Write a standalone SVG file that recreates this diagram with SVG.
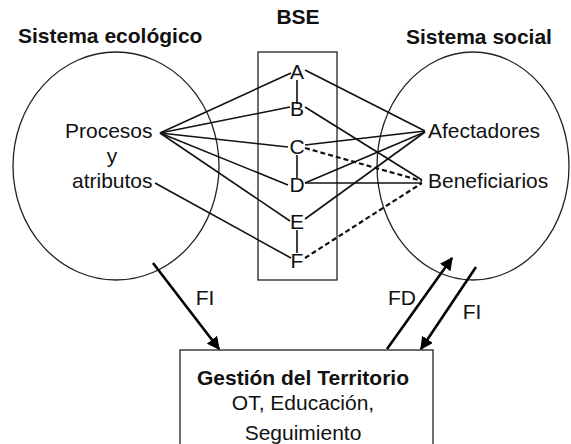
<svg xmlns="http://www.w3.org/2000/svg" width="571" height="444" viewBox="0 0 571 444">
<defs>
<style>
text{font-family:"Liberation Sans",Arial,sans-serif;font-size:21px;fill:#111}
.b{font-weight:bold}
.shape{fill:none;stroke:#222;stroke-width:1.3}
.ln{stroke:#111;stroke-width:1.6;fill:none}
.ds{stroke:#111;stroke-width:2.2;stroke-dasharray:5 3;fill:none}
.ar{stroke:#000;stroke-width:2.6;fill:none;marker-end:url(#ah)}
</style>
<marker id="ah" viewBox="0 0 10 10" refX="9" refY="5" markerWidth="5" markerHeight="5" orient="auto" markerUnits="strokeWidth">
<path d="M0,0 L10,5 L0,10 z" fill="#000"/>
</marker>
</defs>
<rect width="571" height="444" fill="#fff"/>

<g id="sistema-ecologico">
<ellipse class="shape" cx="116" cy="166" rx="103" ry="114"/>
<text class="b" x="18" y="43">Sistema ecológico</text>
<text x="65" y="138">Procesos</text>
<text x="112" y="163" text-anchor="middle">y</text>
<text x="72" y="188">atributos</text>
</g>

<g id="sistema-social">
<ellipse class="shape" cx="473" cy="166" rx="96" ry="114"/>
<text class="b" x="406" y="44">Sistema social</text>
<text x="428" y="138">Afectadores</text>
<text x="428" y="188">Beneficiarios</text>
</g>

<g id="bse">
<rect class="shape" x="258" y="52" width="79" height="228"/>
<text class="b" x="298" y="24" text-anchor="middle">BSE</text>
<text x="297" y="79" text-anchor="middle">A</text>
<text x="297" y="116" text-anchor="middle">B</text>
<text x="297" y="154" text-anchor="middle">C</text>
<text x="297" y="192" text-anchor="middle">D</text>
<text x="297" y="229" text-anchor="middle">E</text>
<text x="297" y="268" text-anchor="middle">F</text>
</g>

<g id="gestion">
<rect class="shape" x="180" y="350" width="253" height="100"/>
<text class="b" x="303" y="385" text-anchor="middle">Gestión del Territorio</text>
<text x="303" y="410" text-anchor="middle">OT, Educación,</text>
<text x="303" y="440" text-anchor="middle">Seguimiento</text>
</g>

<g id="connectors">
<line class="ln" x1="297" y1="80" x2="297" y2="104"/>
<line class="ln" x1="297" y1="155" x2="297" y2="178"/>
<line class="ln" x1="297" y1="230" x2="297" y2="253"/>
<line class="ln" x1="160" y1="133" x2="291" y2="73"/>
<line class="ln" x1="160" y1="133" x2="290" y2="107"/>
<line class="ln" x1="160" y1="133" x2="288" y2="147"/>
<line class="ln" x1="160" y1="133" x2="288" y2="185"/>
<line class="ln" x1="160" y1="133" x2="290" y2="221"/>
<line class="ln" x1="155" y1="183" x2="291" y2="258"/>
<line class="ln" x1="305" y1="70" x2="425" y2="131"/>
<line class="ln" x1="305" y1="107" x2="422" y2="180"/>
<line class="ln" x1="305" y1="145" x2="425" y2="131"/>
<line class="ln" x1="305" y1="183" x2="425" y2="132"/>
<line class="ln" x1="305" y1="183" x2="422" y2="183"/>
<line class="ln" x1="305" y1="219" x2="425" y2="132"/>
<path class="ds" d="M305,148 L422,181"/>
<path class="ds" d="M305,258 L422,183"/>
<line class="ar" x1="153" y1="263" x2="219" y2="349"/>
<line class="ar" x1="387" y1="349" x2="452" y2="258"/>
<line class="ar" x1="476" y1="267" x2="421" y2="349"/>
<text x="205" y="305" text-anchor="middle">FI</text>
<text x="402" y="305" text-anchor="middle">FD</text>
<text x="472" y="319" text-anchor="middle">FI</text>
</g>
</svg>
